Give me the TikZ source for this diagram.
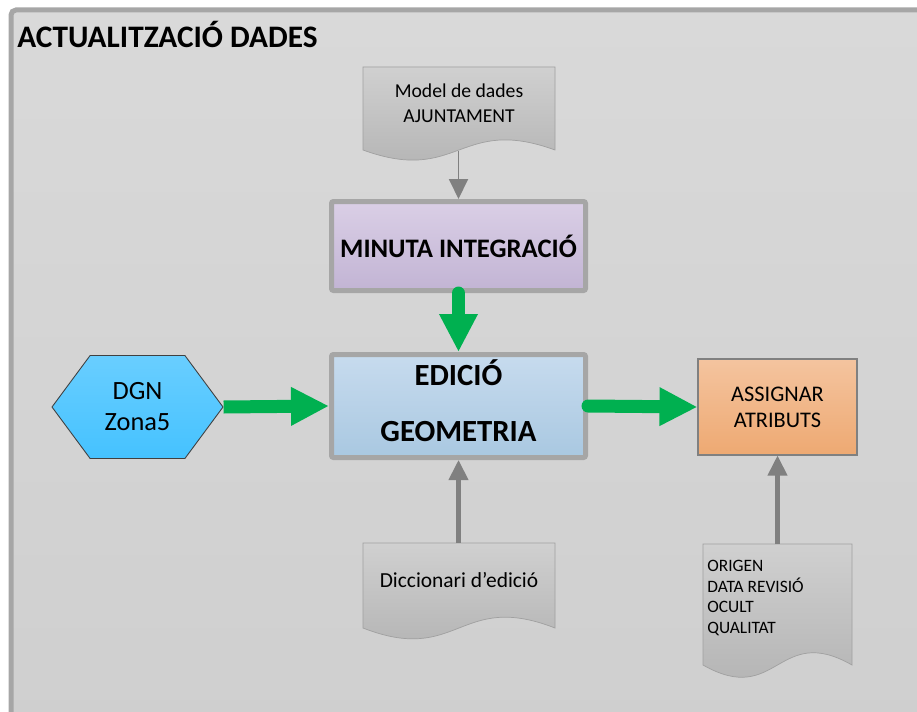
\documentclass[tikz,border=0pt]{standalone}
\usepackage{fontspec}
\setmainfont{Carlito}
\usetikzlibrary{arrows.meta,shapes.symbols}

\definecolor{fonsalt}{HTML}{D9D9D9}
\definecolor{fonsbaix}{HTML}{CFCFCF}
\definecolor{vora}{HTML}{A6A6A6}
\definecolor{docalt}{HTML}{D0D0D0}
\definecolor{docbaix}{HTML}{B0B0B0}
\definecolor{voradoc}{HTML}{A0A0A0}
\definecolor{gris}{HTML}{808080}
\definecolor{lilaalt}{HTML}{DACFE6}
\definecolor{lilabaix}{HTML}{C2B4D4}
\definecolor{blaualt}{HTML}{C7DBEE}
\definecolor{blaubaix}{HTML}{A9C8E1}
\definecolor{taronjaalt}{HTML}{F4C49F}
\definecolor{taronjabaix}{HTML}{EEA972}
\definecolor{cianalt}{HTML}{69CEFF}
\definecolor{cianbaix}{HTML}{45C2FF}
\definecolor{verd}{HTML}{00B050}

\begin{document}
\begin{tikzpicture}[
    % Estils generals
    marc/.style={draw=vora, line width=0.1cm, rounded corners=0.1cm, top color=fonsalt, bottom color=fonsbaix},
    titol/.style={font=\fontsize{17.8}{21}\selectfont\bfseries, inner sep=0pt},
    document/.style={draw=voradoc, line width=0.4pt, top color=docalt, bottom color=docbaix},
    textdoc/.style={inner sep=0pt},
    caixa/.style={draw=vora, line width=0.1cm, rounded corners=0.04cm, minimum width=5.08cm, inner sep=0pt, align=center},
    atribut/.style={draw=gris, line width=0.6pt, top color=taronjaalt, bottom color=taronjabaix, minimum width=3.18cm, minimum height=1.92cm, align=center, font=\fontsize{12.7}{14.7}\selectfont},
    hexagon/.style={shape=signal, signal to=east and west, signal pointer angle=107, draw=black!75, line width=0.5pt, top color=cianalt, bottom color=cianbaix, minimum width=3.42cm, minimum height=2.06cm, inner sep=0pt, align=center, font=\fontsize{15}{17.6}\selectfont},
    fletxa/.style={draw=verd, line width=0.26cm, line cap=round, -{Triangle[length=0.76cm, width=0.72cm]}},
    fletxagris/.style={draw=gris, -{Triangle[length=0.4cm, width=0.38cm]}}
  ]

  \useasboundingbox (0,0) rectangle (18.34,14.22);
  \clip (0,0) rectangle (18.34,14.22);

  % 1. Marc general i titol
  \path[marc] (0.22,-0.5) rectangle (19,14.02);
  \node[titol, anchor=base west] (titol) at (0.34,13.26) {ACTUALITZACIÓ DADES};

  % 2. Documents (vora inferior ondulada)
  \path[document] (7.26,12.88) -- (7.26,11.22) .. controls (9.18,10.52) and (9.18,11.92) .. (11.10,11.22) -- (11.10,12.88) -- cycle;
  \node[textdoc, align=center, font=\fontsize{11.2}{14.2}\selectfont] (model) at (9.18,12.15) {Model de dades\\AJUNTAMENT};
  \coordinate (peumodel) at (9.17,11.20);

  \path[document] (7.26,3.36) -- (7.26,1.66) .. controls (9.18,0.91) and (9.18,2.41) .. (11.10,1.66) -- (11.10,3.36) -- cycle;
  \node[textdoc, font=\fontsize{12.2}{14.6}\selectfont] (diccionari) at (9.18,2.62) {Diccionari d’edició};
  \coordinate (capdiccionari) at (9.17,3.36);

  \path[document] (14.06,3.34) -- (14.06,0.92) .. controls (15.55,0.07) and (15.55,1.77) .. (17.04,0.92) -- (17.04,3.34) -- cycle;
  \node[textdoc, anchor=west, align=left, font=\fontsize{9.9}{11.9}\selectfont] (camps) at (14.14,2.26) {ORIGEN\\DATA REVISIÓ\\OCULT\\QUALITAT};
  \coordinate (capcamps) at (15.55,3.34);

  % 3. Caixes de proces
  \node[caixa, minimum height=1.78cm, top color=lilaalt, bottom color=lilabaix, font=\fontsize{15.2}{18}\selectfont\bfseries] (minuta) at (9.17,9.30) {MINUTA INTEGRACIÓ};
  \node[caixa, minimum height=2.06cm, top color=blaualt, bottom color=blaubaix, text depth=0.2cm, font=\fontsize{17.5}{31.8}\selectfont\bfseries] (edicio) at (9.17,6.10) {EDICIÓ\\GEOMETRIA};
  \node[atribut] (assignar) at (15.55,6.08) {ASSIGNAR\\ATRIBUTS};
  \node[hexagon] (dgn) at (2.75,6.08) {DGN\\Zona5};

  % 4. Fletxes
  \draw[fletxagris, line width=1.1pt] (peumodel) -- (minuta.north);
  \draw[fletxa] (minuta.south) -- (edicio.north);
  \draw[fletxa, line cap=butt] (dgn.east) -- (edicio.west);
  \draw[fletxa] (edicio.east) -- (assignar.west);
  \draw[fletxagris, line width=2.3pt] (capdiccionari) -- (edicio.south);
  \draw[fletxagris, line width=2.3pt] (capcamps) -- (assignar.south);

\end{tikzpicture}
\end{document}
